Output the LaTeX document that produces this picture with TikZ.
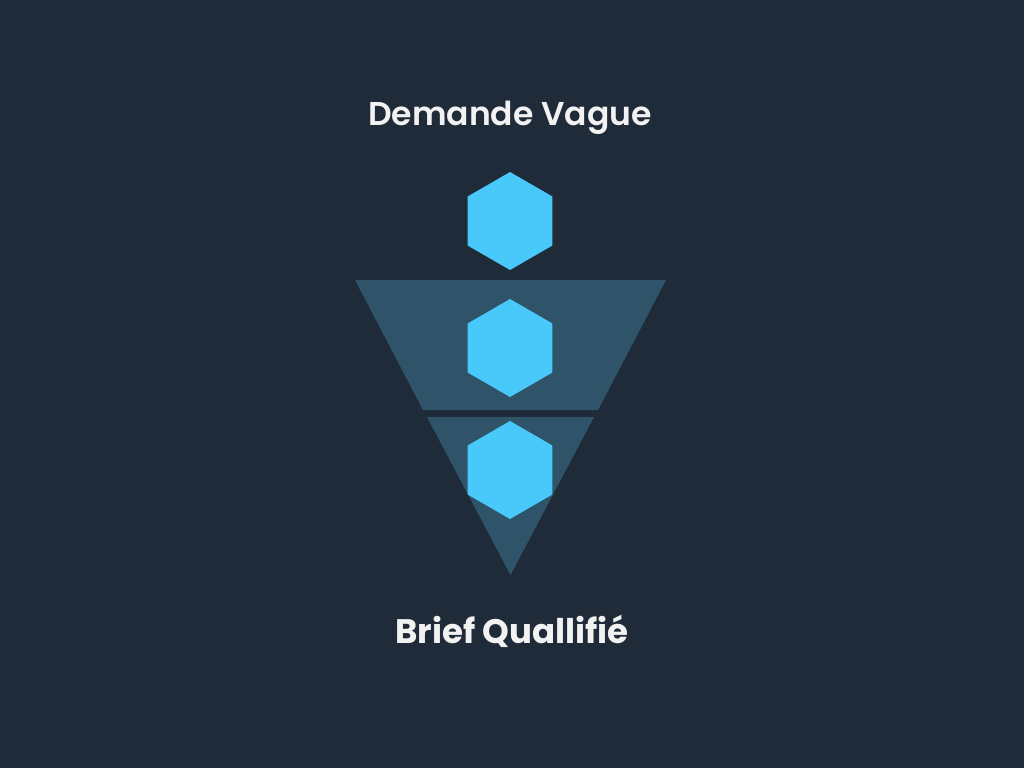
\documentclass[tikz,border=0pt]{standalone}
\usepackage{fontspec}
\setmainfont{Poppins}[UprightFont=*-SemiBold,BoldFont=*-Bold]
\definecolor{bg}{HTML}{1F2B39}
\definecolor{funnel}{HTML}{2F5469}
\definecolor{hex}{HTML}{48C9F9}
\definecolor{txt}{HTML}{F2F2F2}
\begin{document}
\begin{tikzpicture}[x=1pt,y=-1pt,
  hexa/.style={fill=hex},
  funnelpart/.style={fill=funnel},
  label/.style={text=txt,font=\fontsize{33}{40}\selectfont,inner sep=0pt}]
\useasboundingbox (0,0) rectangle (1024,768);
\fill[bg] (0,0) rectangle (1024,768);
% funnel
\fill[funnelpart] (355,280) -- (666,280) -- (598,410) -- (423,410) -- cycle;
\fill[funnelpart] (427,417) -- (594,417) -- (510.5,575) -- cycle;
% hexagons
\foreach \n/\cy in {top/221,mid/348,bot/470}{
  \fill[hexa] (510,\cy-49) -- (552.4,\cy-24.5) -- (552.4,\cy+24.5) -- (510,\cy+49) -- (467.6,\cy+24.5) -- (467.6,\cy-24.5) -- cycle;
}
\node[label] (t1) at (510,118) {Demande Vague};
\node[label,font=\fontsize{34}{40}\selectfont\bfseries] (t2) at (512,631) {Brief Quallifié};
\end{tikzpicture}
\end{document}
